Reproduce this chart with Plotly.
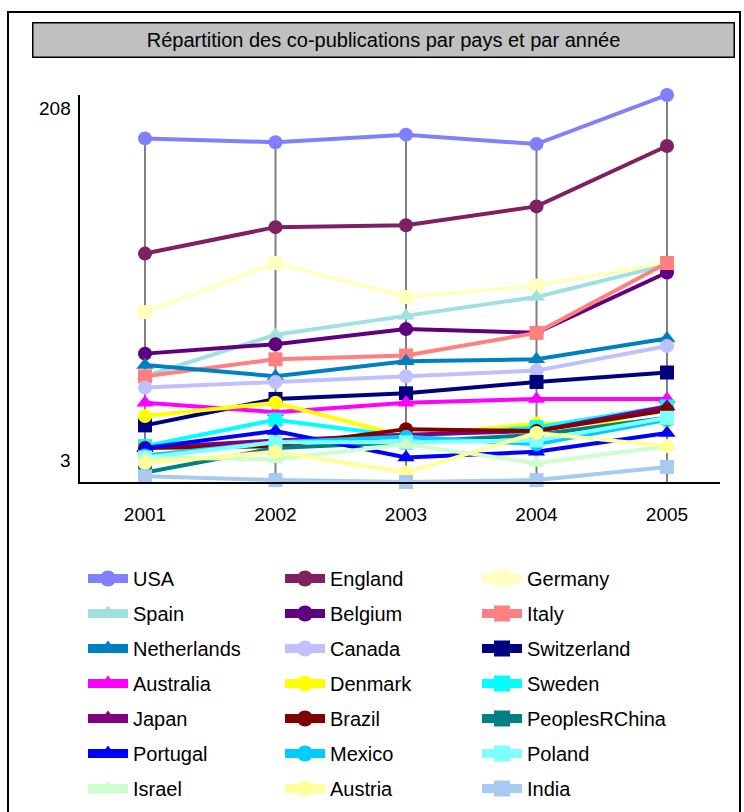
import plotly.graph_objects as go

years = [2001, 2002, 2003, 2004, 2005]
year_labels = ["2001", "2002", "2003", "2004", "2005"]

countries = ["USA", "England", "Germany", "Spain", "Belgium", "Italy",
             "Netherlands", "Canada", "Switzerland", "Australia", "Denmark", "Sweden",
             "Japan", "Brazil", "PeoplesRChina", "Portugal", "Mexico", "Poland",
             "Israel", "Austria", "India"]

usa = [185, 183, 187, 182, 208]
england = [124, 138, 139, 149, 181]
germany = [93, 119, 101, 107, 119]
spain = [59, 81, 91, 101, 118]
belgium = [71, 76, 84, 82, 114]
italy = [59, 68, 70, 82, 119]
netherlands = [65, 59, 67, 68, 79]
canada = [53, 56, 59, 62, 75]
switzerland = [33, 47, 50, 56, 61]
australia = [45, 40, 45, 47, 47]
denmark = [38, 45, 27, 34, 35]
sweden = [22, 36, 27, 32, 43]
japan = [21, 25, 28, 30, 43]
brazil = [21, 22, 31, 30, 41]
china = [8, 21, 24, 28, 37]
portugal = [21, 30, 16, 19, 29]
mexico = [17, 24, 27, 23, 36]
poland = [16, 24, 24, 25, 37]
israel = [16, 15, 23, 13, 22]
austria = [13, 19, 8, 29, 22]
india = [6, 4, 3, 4, 11]

series = [usa, england, germany, spain, belgium, italy, netherlands, canada,
          switzerland, australia, denmark, sweden, japan, brazil, china,
          portugal, mexico, poland, israel, austria, india]

colors = ["#8080FF", "#7F2060", "#FFFFC0", "#A0E0E0", "#600080", "#FF8080",
          "#0080C0", "#C0C0FF", "#000080", "#FF00FF", "#FFFF00", "#00FFFF",
          "#800080", "#800000", "#008080", "#0000FF", "#00CCFF", "#80FFFF",
          "#CCFFCC", "#FFFF99", "#A6CAF0"]

symbols = ["circle", "circle", "square", "triangle-up", "circle", "square",
           "triangle-up", "circle", "square", "triangle-up", "circle", "square",
           "triangle-up", "circle", "square", "triangle-up", "circle", "square",
           "triangle-up", "circle", "square"]

title_text = "Répartition des co-publications par pays et par année"
FONT = "Liberation Sans, Arial, sans-serif"

ymin = min(min(s) for s in series)
ymax = max(max(s) for s in series)

fig = go.Figure()

# gray drop lines from the highest value of each year down to the axis
dx, dy = [], []
for i, yr in enumerate(years):
    top = max(s[i] for s in series)
    dx += [yr, yr, None]
    dy += [ymin, top, None]
fig.add_trace(go.Scatter(x=dx, y=dy, mode="lines", line=dict(color="#808080", width=2),
                         showlegend=False, hoverinfo="skip", cliponaxis=False))

for name, vals, col, sym in zip(countries, series, colors, symbols):
    fig.add_trace(go.Scatter(
        x=years, y=vals, name=name, mode="lines+markers", legendgroup=name,
        line=dict(color=col, width=4),
        marker=dict(symbol=sym, size=15 if sym == "triangle-up" else 14, color=col),
        showlegend=False, cliponaxis=False))

legend_names = ["legend", "legend2", "legend3"]
for i, (name, col, sym) in enumerate(zip(countries, colors, symbols)):
    fig.add_trace(go.Scatter(
        x=[None], y=[None], name=name, mode="lines+markers", legendgroup=name,
        line=dict(color=col, width=9),
        marker=dict(symbol=sym, size=16, color=col),
        legend=legend_names[i % 3], showlegend=True))

W, H = 744, 812
PL, PR, PT, PB = 80, 720, 95, 482


def px_x(p):
    return (p - PL) / (PR - PL)


def px_y(p):
    return (PB - p) / (PB - PT)


leg_common = dict(xref="container", yref="container", xanchor="left", yanchor="top",
                  font=dict(family=FONT, size=20, color="black"),
                  tracegroupgap=6, itemwidth=40, bgcolor="rgba(0,0,0,0)",
                  borderwidth=0, orientation="v")

fig.update_layout(
    width=W, height=H,
    margin=dict(l=PL, r=W - PR, t=PT, b=H - PB, autoexpand=False),
    paper_bgcolor="white", plot_bgcolor="white",
    font=dict(family=FONT, color="black"),
    showlegend=True,
    legend=dict(x=83 / W, y=1 - 559 / H, **leg_common),
    legend2=dict(x=280 / W, y=1 - 559 / H, **leg_common),
    legend3=dict(x=477 / W, y=1 - 559 / H, **leg_common),
    xaxis=dict(range=[2000.502, 2005.406], tickvals=years, ticktext=year_labels,
               showline=True, linecolor="black", linewidth=2, showgrid=False,
               zeroline=False, ticks="", ticklabelstandoff=14,
               tickfont=dict(family=FONT, size=19, color="black")),
    yaxis=dict(range=[ymin, ymax], showticklabels=False, showline=True,
               linecolor="black", linewidth=2, showgrid=False, zeroline=False,
               ticks=""),
    shapes=[dict(type="rect", xref="paper", yref="paper",
                 x0=px_x(8), x1=px_x(740), y0=px_y(830), y1=px_y(12),
                 line=dict(color="black", width=2), fillcolor="rgba(0,0,0,0)",
                 layer="below")],
    annotations=[
        dict(text=title_text, xref="paper", yref="paper", x=px_x(383), y=px_y(40),
             xanchor="center", yanchor="middle", showarrow=False,
             width=700, height=33, bgcolor="#C0C0C0", bordercolor="black",
             borderwidth=1.5, borderpad=0,
             font=dict(family=FONT, size=20, color="black")),
        dict(text=str(ymax), xref="paper", yref="y", x=0, y=ymax, xanchor="right",
             yanchor="middle", xshift=-7, yshift=-13, showarrow=False,
             font=dict(family=FONT, size=19, color="black")),
        dict(text=str(ymin), xref="paper", yref="y", x=0, y=ymin, xanchor="right",
             yanchor="middle", xshift=-7, yshift=22, showarrow=False,
             font=dict(family=FONT, size=19, color="black")),
    ],
)

fig.write_html("out.html")
